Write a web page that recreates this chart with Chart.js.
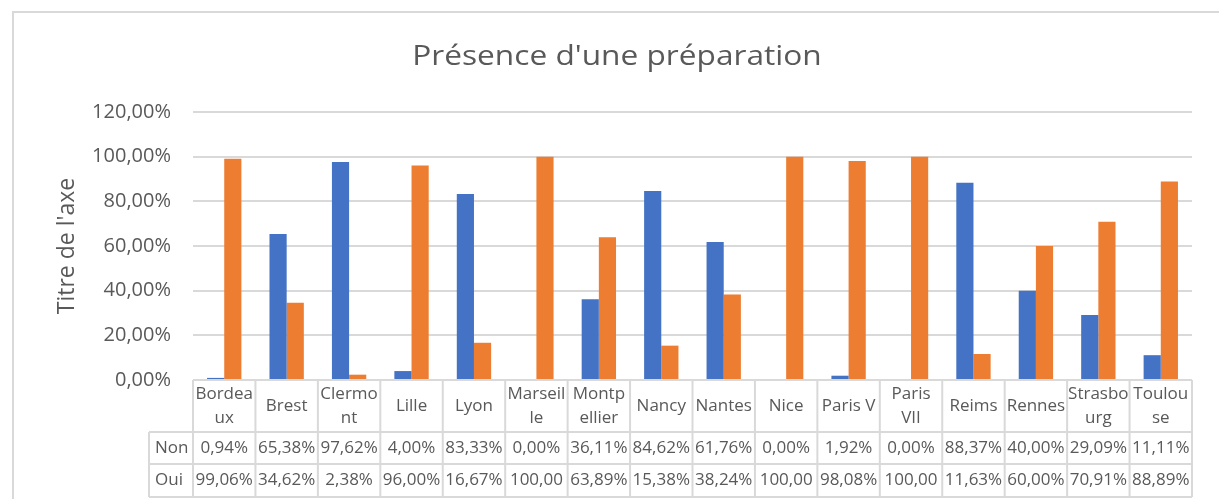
<!DOCTYPE html>
<html>
<head>
<meta charset="utf-8">
<script src="https://cdn.jsdelivr.net/npm/chart.js@4/dist/chart.umd.min.js"></script>
<style>
  body { margin: 0; background: #fff; }
  canvas { display: block; }
</style>
</head>
<body>
<canvas id="barres" width="1219" height="499"></canvas>
<script>
const titre = "Présence d'une préparation";
const titreAxe = "Titre de l'axe";
const villes = [
  ["Bordea", "ux"], "Brest", ["Clermo", "nt"], "Lille", "Lyon", ["Marseil", "le"],
  ["Montp", "ellier"], "Nancy", "Nantes", "Nice", "Paris V", ["Paris", "VII"],
  "Reims", "Rennes", ["Strasbo", "urg"], ["Toulou", "se"],
];
const non = [0.94, 65.38, 97.62, 4.0, 83.33, 0.0, 36.11, 84.62, 61.76, 0.0, 1.92, 0.0, 88.37, 40.0, 29.09, 11.11];
const oui = [99.06, 34.62, 2.38, 96.0, 16.67, 100.0, 63.89, 15.38, 38.24, 100.0, 98.08, 100.0, 11.63, 60.0, 70.91, 88.89];
const yTicks = [0, 20, 40, 60, 80, 100, 120];

const texte = "#595959";
const trait = "#D9D9D9";

Chart.defaults.font.family = "'Open Sans', sans-serif";
Chart.defaults.color = texte;

function pourcent(v) {
  return v.toFixed(2).replace(".", ",") + "%";
}

// cadre, titre et table de données façon Excel
const tableExcel = {
  id: "tableExcel",
  afterDraw(chart) {
    const ctx = chart.ctx;
    const area = chart.chartArea;
    const xs = chart.scales.x;
    const colW = (area.right - area.left) / villes.length;
    const y0 = area.bottom;
    const y1 = y0 + 52;
    const y2 = y1 + 32;
    const y3 = y2 + 33;
    const gauche = 149;

    ctx.save();
    ctx.strokeStyle = trait;
    ctx.lineWidth = 2;

    // cadre du graphique
    ctx.beginPath();
    ctx.moveTo(13, 499);
    ctx.lineTo(13, 12);
    ctx.lineTo(1219, 12);
    ctx.stroke();

    // lignes de la table
    ctx.beginPath();
    ctx.moveTo(area.left, y0);
    ctx.lineTo(area.right, y0);
    [y1, y2, y3].forEach((y) => {
      ctx.moveTo(gauche, y);
      ctx.lineTo(area.right, y);
    });
    ctx.moveTo(gauche, y1);
    ctx.lineTo(gauche, y3);
    for (let i = 0; i <= villes.length; i++) {
      const x = area.left + i * colW;
      ctx.moveTo(x, y0);
      ctx.lineTo(x, y3);
    }
    ctx.stroke();

    ctx.fillStyle = texte;
    ctx.font = "17px 'Open Sans'";
    ctx.textBaseline = "middle";
    ctx.textAlign = "left";
    ctx.fillText("Non", 155, (y1 + y2) / 2);
    ctx.fillText("Oui", 155, (y2 + y3) / 2);

    ctx.textAlign = "center";
    villes.forEach((v, i) => {
      const cx = xs.getPixelForValue(i);
      const lignes = Array.isArray(v) ? v : [v];
      const mid = (y0 + y1) / 2;
      lignes.forEach((l, k) => {
        ctx.fillText(l, cx, mid + (k - (lignes.length - 1) / 2) * 24);
      });
      [[non[i], (y1 + y2) / 2], [oui[i], (y2 + y3) / 2]].forEach(([val, y]) => {
        let s = pourcent(val);
        while (ctx.measureText(s).width > colW - 3) s = s.slice(0, -1);
        ctx.fillText(s, cx, y);
      });
    });

    // titre
    ctx.font = "28px 'Open Sans'";
    ctx.textBaseline = "alphabetic";
    ctx.translate(617, 65);
    ctx.scale(1.13, 1);
    ctx.fillText(titre, 0, 0);
    ctx.restore();
  },
};

let barres = new Chart(document.getElementById("barres"), {
  type: "bar",
  data: {
    labels: villes,
    datasets: [
      { label: "Non", data: non, backgroundColor: "#4472C4" },
      { label: "Oui", data: oui, backgroundColor: "#ED7D31" },
    ],
  },
  options: {
    responsive: false,
    animation: false,
    layout: { padding: { left: 0, top: 112, right: 27, bottom: 119 } },
    datasets: { bar: { categoryPercentage: 0.55, barPercentage: 1 } },
    plugins: {
      legend: { display: false },
      tooltip: { enabled: false },
    },
    scales: {
      x: { display: false },
      y: {
        min: 0,
        max: 120,
        afterBuildTicks: (scale) => {
          scale.ticks = yTicks.map((v) => ({ value: v }));
        },
        afterFit: (scale) => {
          scale.width = 193;
        },
        ticks: {
          padding: 22,
          font: { size: 20 },
          color: texte,
          callback: (v) => pourcent(v),
        },
        grid: { color: trait, lineWidth: 2, drawTicks: false },
        border: { display: false },
        title: {
          display: true,
          text: titreAxe,
          color: texte,
          font: { size: 23 },
          padding: { top: 54 },
        },
      },
    },
  },
  plugins: [tableExcel],
});
</script>
</body>
</html>
